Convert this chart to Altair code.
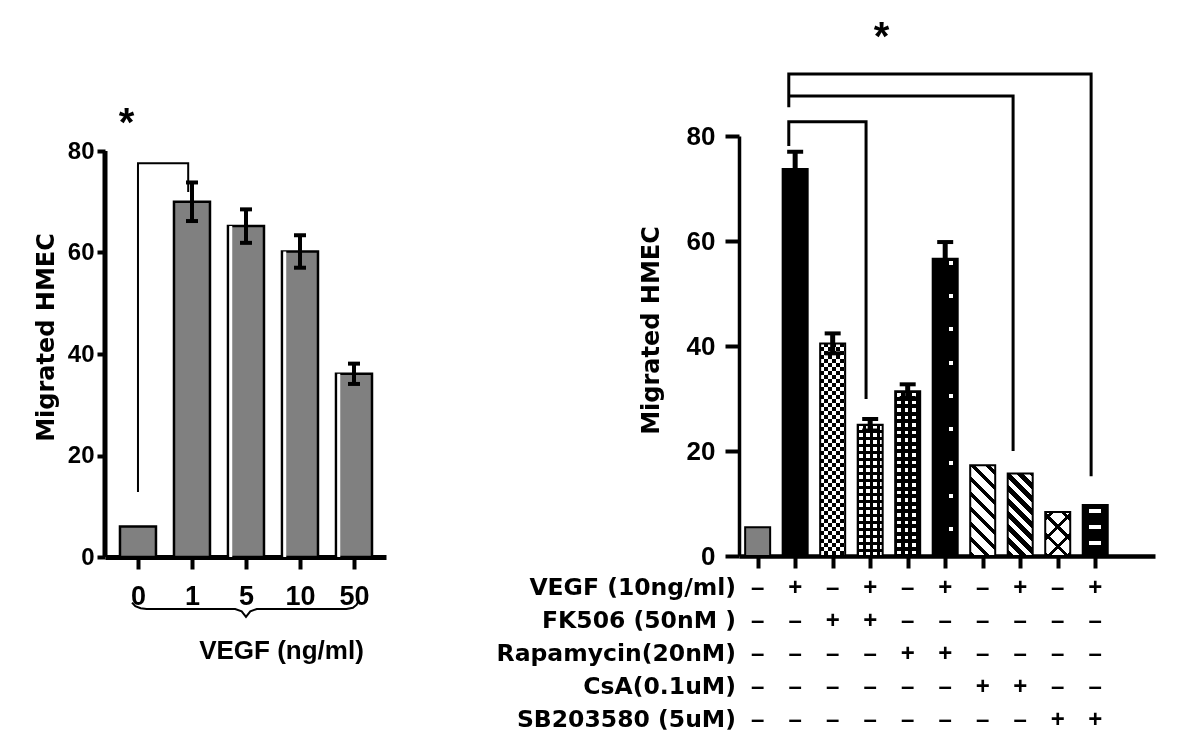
import math
import json
import altair as alt
import pandas as pd

# ---------------- data ----------------
left_doses = ["0", "1", "5", "10", "50"]
left_values = [6.0, 70.0, 65.2, 60.2, 36.1]
left_errors = [0.0, 3.8, 3.3, 3.2, 2.0]
left_x_title = "VEGF (ng/ml)"

right_values = [5.5, 73.7, 40.5, 25.0, 31.4, 56.6, 17.3, 15.7, 8.4, 9.7]
right_errors = [0.0, 3.3, 1.9, 1.1, 1.3, 3.2, 0.0, 0.0, 0.0, 0.0]

treatments = ["VEGF (10ng/ml)", "FK506 (50nM )", "Rapamycin(20nM)", "CsA(0.1uM)", "SB203580 (5uM)"]
vegf_signs = ["-", "+", "-", "+", "-", "+", "-", "+", "-", "+"]
fk506_signs = ["-", "-", "+", "+", "-", "-", "-", "-", "-", "-"]
rapa_signs = ["-", "-", "-", "-", "+", "+", "-", "-", "-", "-"]
csa_signs = ["-", "-", "-", "-", "-", "-", "+", "+", "-", "-"]
sb_signs = ["-", "-", "-", "-", "-", "-", "-", "-", "+", "+"]

y_title = "Migrated HMEC"
y_ticks = [0, 20, 40, 60, 80]

# significance annotations (axis units)
left_bracket_x = [1.0, 1.0, 1.93, 1.93]
left_bracket_y = [12.8, 77.6, 77.6, 71.9]
right_bracket_a_x = [1.83, 1.83, 9.89, 9.89]
right_bracket_a_y = [85.5, 91.8, 91.8, 15.2]
right_bracket_b_x = [1.83, 7.81, 7.81]
right_bracket_b_y = [87.6, 87.6, 20.0]
right_bracket_c_x = [1.83, 1.83, 3.89, 3.89]
right_bracket_c_y = [78.1, 82.7, 82.7, 29.9]
left_star_xy = [0.786, 86.5]
right_star_xy = [4.30, 99.8]
brace_x = [0.89, 0.95, 1.05, 1.16, 2.80, 2.92, 3.0, 3.08, 3.2, 4.86, 4.98, 5.05, 5.09]
brace_y = [-9.0, -9.7, -10.1, -10.25, -10.25, -10.7, -11.8, -10.7, -10.25, -10.25, -10.0, -9.4, -8.5]

# ---------------- layout / style ----------------
L_W, L_H = 281, 421
L_YMAX = 421 / 5.075
R_W, R_H = 416, 420
R_PX = R_H / 80.0
R_BAR = 25
LAB_FONT = "Liberation Sans"
TITLE_FONT = "DejaVu Sans"
STAR_DY = 18


def stripe_gradient(W, H, dx, dy, period, width, phase, stripe, base):
    """Linear gradient (bbox units) drawing stripes parallel to (dx, dy) in pixel space."""
    nx, ny = dy, -dx
    corners = [(0, 0), (W, 0), (0, H), (W, H)]
    projs = [cx * nx + cy * ny for cx, cy in corners]
    imin = min(range(4), key=lambda i: projs[i])
    L = max(projs) - projs[imin]
    denom = W * H * ((dy * dy) / (H * H) + (dx * dx) / (W * W))
    k = L / denom
    sx, sy = corners[imin][0] / W, corners[imin][1] / H
    vx, vy = k * dy / H, -k * dx / W
    cuts = {0.0, L}
    j = math.floor(-phase / period) - 1
    while True:
        a = phase + j * period
        if a > L:
            break
        for c in (a, a + width):
            if 0 < c < L:
                cuts.add(c)
        j += 1
    cuts = sorted(cuts)
    stops = []
    for a, b in zip(cuts[:-1], cuts[1:]):
        mid = (a + b) / 2
        col = stripe if ((mid - phase) % period) < width else base
        stops.append({"offset": round(a / L, 5), "color": col})
        stops.append({"offset": round(b / L, 5), "color": col})
    return {"gradient": "linear", "x1": sx, "y1": sy, "x2": sx + vx, "y2": sy + vy, "stops": stops}


R2 = 1 / math.sqrt(2)


def hstr(H, *a):
    return stripe_gradient(R_BAR, H, -1, 0, *a)


def vstr(H, *a):
    return stripe_gradient(R_BAR, H, 0, 1, *a)


def ddown(H, *a):
    return stripe_gradient(R_BAR, H, R2, R2, *a)


def dup(H, *a):
    return stripe_gradient(R_BAR, H, R2, -R2, *a)


# ---------------- left panel ----------------
left_df = pd.DataFrame({
    "pos": list(range(1, len(left_doses) + 1)),
    "dose": left_doses,
    "value": left_values,
    "err": left_errors,
})
left_df["hi"] = left_df["value"] + left_df["err"]
left_df["lo"] = left_df["value"] - left_df["err"]

lx_scale = alt.Scale(domain=[0.482, 5.5], nice=False, zero=False)
ly_scale = alt.Scale(domain=[0, L_YMAX], nice=False, zero=True)

label_expr = json.dumps(left_doses) + "[datum.value - 1]"
left_x_axis = alt.Axis(
    values=list(range(1, len(left_doses) + 1)), labelExpr=label_expr, grid=False,
    domainWidth=5, domainColor="black", tickSize=12, tickWidth=4, tickColor="black",
    labelFont=LAB_FONT, labelFontSize=27, labelFontWeight="bold", labelColor="black",
    labelPadding=14, labelFlush=False,
    title=left_x_title, titleFont=LAB_FONT, titleFontSize=26, titleFontWeight="bold",
    titleColor="black", titleX=176, titleY=93, titleBaseline="middle", titleAlign="center",
)
left_y_axis = alt.Axis(
    values=y_ticks, domain=False, grid=False, tickSize=8, tickWidth=4, tickColor="black",
    labelFont=LAB_FONT, labelFontSize=24, labelFontWeight="bold", labelColor="black",
    labelPadding=3,
    title=y_title, titleFont=TITLE_FONT, titleFontSize=24, titleFontWeight="bold",
    titleColor="black", titleAngle=270, titleX=-59, titleY=201,
    titleBaseline="middle", titleAlign="center",
)


def LXf(f):
    return alt.X(f, scale=lx_scale, axis=left_x_axis)


def LYf(f):
    return alt.Y(f, scale=ly_scale, axis=left_y_axis)


lbase = alt.Chart(left_df)
l_bars = lbase.mark_bar(size=36, fill="#808080", stroke="black", strokeWidth=2.5).encode(
    x=LXf("pos:Q"), y=LYf("value:Q"))
l_gap = lbase.transform_filter(alt.datum.pos >= 3).mark_bar(
    size=3, fill="white", strokeWidth=0, xOffset=-15.25
).encode(x=LXf("pos:Q"), y=LYf("value:Q"))
l_err = lbase.transform_filter(alt.datum.err > 0).mark_rule(strokeWidth=4, color="black").encode(
    x=LXf("pos:Q"), y=LYf("lo:Q"), y2="hi:Q")
l_cap_hi = lbase.transform_filter(alt.datum.err > 0).mark_tick(
    orient="horizontal", size=12, thickness=4, color="black", opacity=1).encode(
    x=LXf("pos:Q"), y=LYf("hi:Q"))
l_cap_lo = lbase.transform_filter(alt.datum.err > 0).mark_tick(
    orient="horizontal", size=12, thickness=4, color="black", opacity=1).encode(
    x=LXf("pos:Q"), y=LYf("lo:Q"))
l_yline = alt.Chart(pd.DataFrame({"y0": [y_ticks[0]], "y1": [y_ticks[-1]]})).mark_rule(
    strokeWidth=5, color="black").encode(x=alt.value(0), y=LYf("y0:Q"), y2="y1:Q")

lbr_df = pd.DataFrame({"x": left_bracket_x, "y": left_bracket_y, "o": range(len(left_bracket_x))})
l_bracket = alt.Chart(lbr_df).mark_line(color="black", strokeWidth=2).encode(
    x=LXf("x:Q"), y=LYf("y:Q"), order="o:Q")
brace_df = pd.DataFrame({"x": brace_x, "y": brace_y, "o": range(len(brace_x))})
l_brace = alt.Chart(brace_df).mark_line(color="black", strokeWidth=2).encode(
    x=LXf("x:Q"), y=LYf("y:Q"), order="o:Q")
l_star = alt.Chart(pd.DataFrame({"x": [left_star_xy[0]], "y": [left_star_xy[1]], "t": ["*"]})).mark_text(
    font=LAB_FONT, fontSize=40, fontWeight="bold", baseline="alphabetic", dy=STAR_DY, color="black").encode(
    x=LXf("x:Q"), y=LYf("y:Q"), text="t:N")

left = alt.layer(l_bars, l_gap, l_err, l_cap_hi, l_cap_lo, l_yline, l_bracket, l_brace, l_star).properties(
    width=L_W, height=L_H)

# ---------------- right panel ----------------
right_df = pd.DataFrame({
    "pos": list(range(1, len(right_values) + 1)),
    "value": right_values,
    "err": right_errors,
})
right_df["hi"] = right_df["value"] + right_df["err"]
right_df["lo"] = right_df["value"] - right_df["err"]

rx_scale = alt.Scale(domain=[0.636, 11.46], nice=False, zero=False)
ry_scale = alt.Scale(domain=[0, 80], nice=False, zero=True)

right_x_axis = alt.Axis(
    values=list(range(1, len(right_values) + 1)), labels=False, grid=False, title=None,
    domainWidth=4.5, domainColor="black", tickSize=12, tickWidth=4, tickColor="black",
)
right_y_axis = alt.Axis(
    values=y_ticks, grid=False, domainWidth=3.5, domainColor="black",
    tickSize=14, tickWidth=4, tickColor="black",
    labelFont=LAB_FONT, labelFontSize=26, labelFontWeight="bold", labelColor="black",
    labelPadding=10,
    title=y_title, titleFont=TITLE_FONT, titleFontSize=24, titleFontWeight="bold",
    titleColor="black", titleAngle=270, titleX=-88, titleY=194,
    titleBaseline="middle", titleAlign="center",
)


def RXf(f):
    return alt.X(f, scale=rx_scale, axis=right_x_axis)


def RYf(f):
    return alt.Y(f, scale=ry_scale, axis=right_y_axis)


rbase = alt.Chart(right_df)


def rbar(i, **mark):
    return rbase.transform_filter(alt.datum.pos == i).mark_bar(size=R_BAR, **mark).encode(
        x=RXf("pos:Q"), y=RYf("value:Q"))


def H(i):
    return right_values[i - 1] * R_PX


patterns = {
    3: [(hstr(H(3), 8, 4, 0, "black", "white"), None),
        (vstr(H(3), 8, 4, 0, "white", "black"), "difference")],
    4: [(hstr(H(4), 7, 4, 1.5, "white", "black"), None),
        (vstr(H(4), 7, 4, 1.5, "white", "black"), "multiply")],
    5: [(hstr(H(5), 7.5, 3.5, 2, "white", "black"), None),
        (vstr(H(5), 7.5, 3.5, 2, "white", "black"), "multiply")],
    6: [(hstr(H(6), 33.3, 4, 2, "white", "black"), None),
        (vstr(H(6), 100, 4, 16, "white", "black"), "multiply")],
    7: [(ddown(H(7), 10.6, 3.5, 0, "black", "white"), None)],
    8: [(ddown(H(8), 9.2, 5, 0, "black", "white"), None)],
    9: [(ddown(H(9), 14, 3, 0, "black", "white"), None),
        (dup(H(9), 14, 3, 0, "black", "white"), "multiply")],
    10: [(hstr(H(10), 16, 4, 4, "white", "black"), None),
         (vstr(H(10), 100, 12, 6, "white", "black"), "multiply")],
}

r_layers = [
    rbar(1, fill="#808080", stroke="black", strokeWidth=2),
    rbar(2, fill="black", stroke="black", strokeWidth=2),
]
for i in range(3, len(right_values) + 1):
    for grad, blend in patterns[i]:
        kw = {"fill": grad, "strokeWidth": 0}
        if blend:
            kw["blend"] = blend
        r_layers.append(rbar(i, **kw))
r_layers.append(rbase.transform_filter(alt.datum.pos >= 3).mark_bar(
    size=R_BAR, fillOpacity=0, stroke="black", strokeWidth=2).encode(x=RXf("pos:Q"), y=RYf("value:Q")))

r_layers.append(rbase.transform_filter(alt.datum.err > 0).mark_rule(strokeWidth=5, color="black").encode(
    x=RXf("pos:Q"), y=RYf("lo:Q"), y2="hi:Q"))
for fld in ("hi", "lo"):
    r_layers.append(rbase.transform_filter(alt.datum.err > 0).mark_tick(
        orient="horizontal", size=16, thickness=4, color="black", opacity=1).encode(
        x=RXf("pos:Q"), y=RYf(f"{fld}:Q")))

rb_rows = []
for name, xs, ys in (("a", right_bracket_a_x, right_bracket_a_y),
                     ("b", right_bracket_b_x, right_bracket_b_y),
                     ("c", right_bracket_c_x, right_bracket_c_y)):
    for o, (xv, yv) in enumerate(zip(xs, ys)):
        rb_rows.append({"id": name, "o": o, "x": xv, "y": yv})
r_layers.append(alt.Chart(pd.DataFrame(rb_rows)).mark_line(color="black", strokeWidth=3).encode(
    x=RXf("x:Q"), y=RYf("y:Q"), detail="id:N", order="o:Q"))
r_layers.append(alt.Chart(pd.DataFrame({"x": [right_star_xy[0]], "y": [right_star_xy[1]], "t": ["*"]})).mark_text(
    font=LAB_FONT, fontSize=40, fontWeight="bold", baseline="alphabetic", dy=STAR_DY, color="black").encode(
    x=RXf("x:Q"), y=RYf("y:Q"), text="t:N"))

right_main = alt.layer(*r_layers)

# treatment table under the right panel
sign_rows = []
for row, signs in zip(treatments, [vegf_signs, fk506_signs, rapa_signs, csa_signs, sb_signs]):
    for pos, s in enumerate(signs, start=1):
        sign_rows.append({"row": row, "pos": pos, "sign": "+" if s == "+" else "\u2013"})
table_df = pd.DataFrame(sign_rows)
TY = alt.Y("row:N", scale=alt.Scale(type="point", domain=treatments, range=[452, 584], padding=0), axis=None)
t_signs = alt.Chart(table_df).mark_text(
    font=LAB_FONT, fontSize=24, fontWeight="bold", baseline="middle", color="black").encode(
    x=RXf("pos:Q"), y=TY, text="sign:N")
t_labels = alt.Chart(pd.DataFrame({"row": treatments})).mark_text(
    font=TITLE_FONT, fontSize=23.5, fontWeight="bold", align="right", baseline="middle", color="black").encode(
    x=alt.value(-3), y=TY, text="row:N")
table = alt.layer(t_signs, t_labels)

right = alt.layer(right_main, table).resolve_scale(y="independent").properties(width=R_W, height=R_H)

chart = alt.hconcat(left, right, spacing=353, bounds="flush").properties(
    padding={"left": 26, "top": 10, "right": 5, "bottom": 5}
).configure_view(stroke=None)

chart.save("out.html", embed_options={"renderer": "svg", "actions": False})
